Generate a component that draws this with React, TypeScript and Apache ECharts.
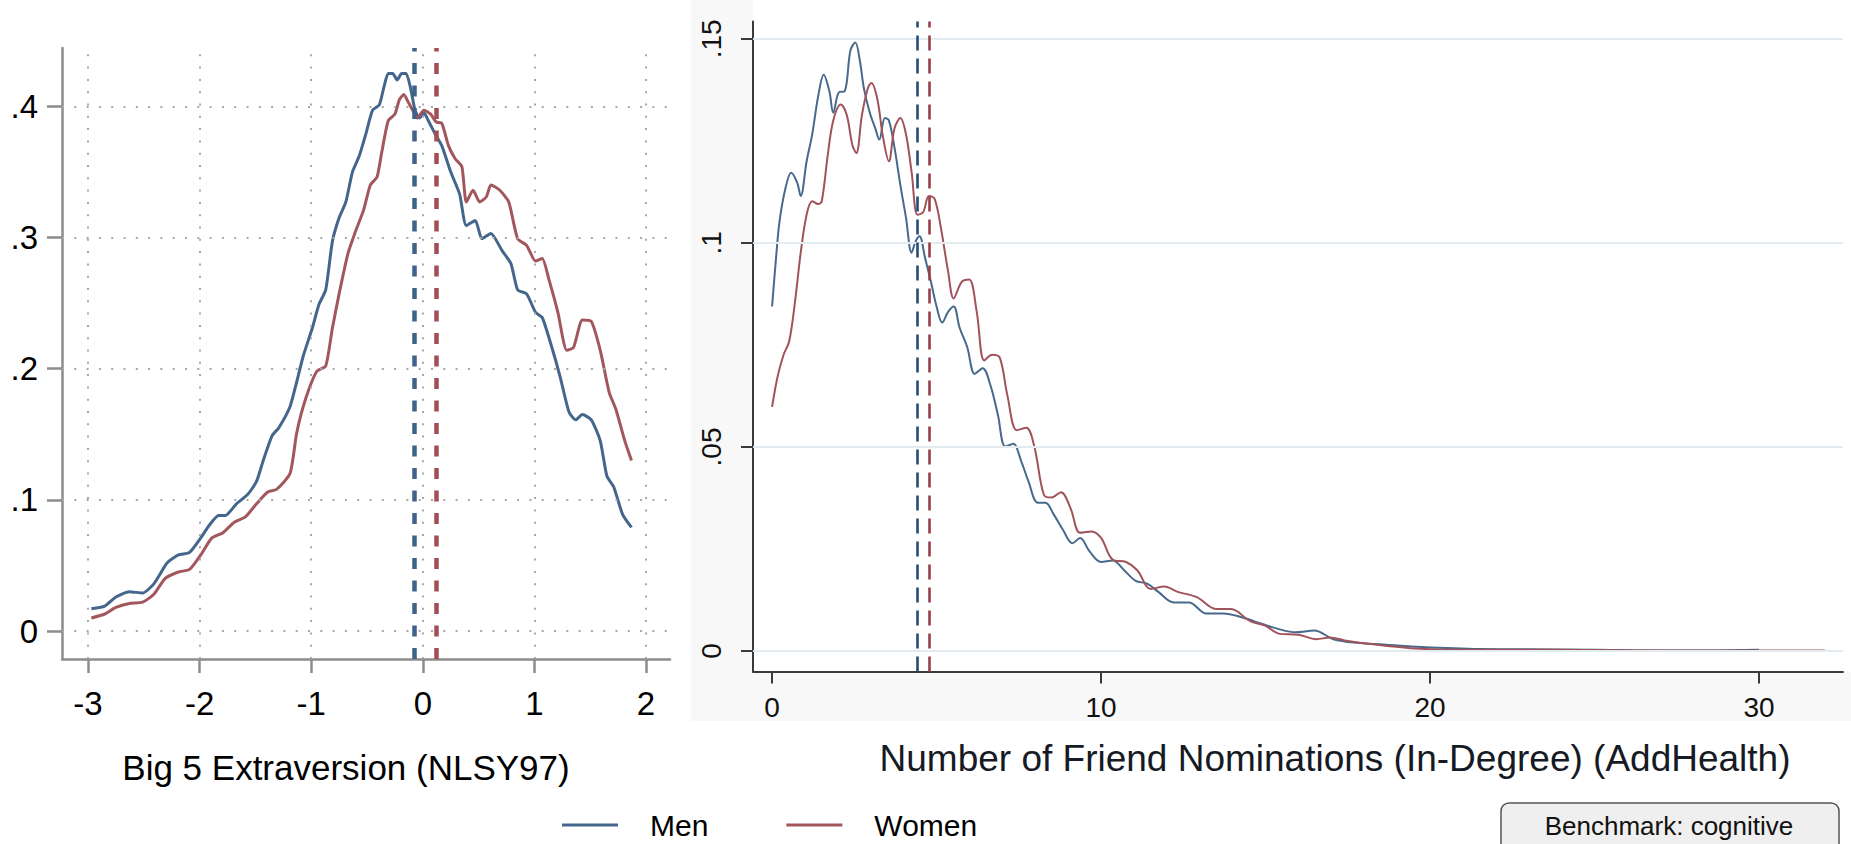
import React, { useEffect, useRef } from "react";
import * as echarts from "echarts";

// ---- Big 5 Extraversion (NLSY97): kernel densities by sex ----
const extraversionMenX = [-2.97, -2.85, -2.75, -2.63, -2.51, -2.41, -2.29, -2.19, -2.09, -1.99, -1.91, -1.83, -1.77, -1.67, -1.57, -1.49, -1.43, -1.35, -1.29, -1.19, -1.13, -1.07, -0.99, -0.93, -0.87, -0.81, -0.75, -0.69, -0.63, -0.57, -0.51, -0.45, -0.39, -0.35, -0.31, -0.27, -0.23, -0.19, -0.15, -0.11, -0.07, -0.03, 0.01, 0.05, 0.11, 0.17, 0.25, 0.33, 0.39, 0.47, 0.53, 0.61, 0.71, 0.79, 0.85, 0.93, 1.01, 1.07, 1.15, 1.23, 1.31, 1.37, 1.43, 1.51, 1.59, 1.65, 1.71, 1.79, 1.87];
const extraversionMen = [0.017, 0.019, 0.026, 0.030, 0.029, 0.036, 0.052, 0.058, 0.060, 0.071, 0.081, 0.088, 0.088, 0.097, 0.104, 0.114, 0.130, 0.149, 0.155, 0.171, 0.190, 0.210, 0.231, 0.249, 0.260, 0.297, 0.315, 0.327, 0.350, 0.362, 0.379, 0.397, 0.401, 0.414, 0.425, 0.425, 0.420, 0.425, 0.425, 0.414, 0.397, 0.391, 0.395, 0.389, 0.379, 0.370, 0.350, 0.333, 0.309, 0.313, 0.299, 0.303, 0.290, 0.280, 0.260, 0.257, 0.243, 0.239, 0.218, 0.194, 0.167, 0.161, 0.165, 0.161, 0.145, 0.118, 0.110, 0.089, 0.079];
const extraversionWomenX = [-2.97, -2.85, -2.75, -2.63, -2.51, -2.41, -2.31, -2.19, -2.09, -1.99, -1.89, -1.79, -1.69, -1.59, -1.49, -1.39, -1.31, -1.19, -1.13, -1.05, -0.95, -0.87, -0.81, -0.75, -0.67, -0.61, -0.53, -0.47, -0.41, -0.37, -0.31, -0.25, -0.21, -0.17, -0.13, -0.09, -0.05, 0.01, 0.07, 0.12, 0.17, 0.23, 0.29, 0.35, 0.39, 0.45, 0.51, 0.57, 0.61, 0.69, 0.77, 0.85, 0.93, 1.01, 1.07, 1.13, 1.21, 1.29, 1.35, 1.43, 1.51, 1.59, 1.67, 1.73, 1.81, 1.87];
const extraversionWomen = [0.010, 0.013, 0.018, 0.021, 0.022, 0.028, 0.040, 0.045, 0.047, 0.058, 0.071, 0.075, 0.083, 0.087, 0.097, 0.106, 0.108, 0.120, 0.151, 0.177, 0.198, 0.202, 0.231, 0.257, 0.288, 0.303, 0.321, 0.340, 0.346, 0.364, 0.389, 0.394, 0.405, 0.409, 0.403, 0.397, 0.391, 0.397, 0.394, 0.388, 0.387, 0.370, 0.360, 0.354, 0.327, 0.336, 0.327, 0.331, 0.340, 0.336, 0.327, 0.299, 0.294, 0.282, 0.284, 0.268, 0.243, 0.214, 0.216, 0.237, 0.236, 0.214, 0.182, 0.169, 0.145, 0.130];
const extraversionMeanMen = -0.08;
const extraversionMeanWomen = 0.12;

// ---- Friend nominations (AddHealth): kernel densities by sex ----
const nominationsMenX = [0, 0.12, 0.23, 0.41, 0.58, 0.76, 0.87, 1.05, 1.22, 1.40, 1.57, 1.74, 1.86, 2.03, 2.21, 2.38, 2.53, 2.67, 2.79, 2.97, 3.14, 3.26, 3.43, 3.55, 3.72, 3.90, 4.07, 4.24, 4.36, 4.48, 4.65, 4.83, 5.00, 5.17, 5.35, 5.52, 5.70, 5.93, 6.16, 6.40, 6.63, 6.86, 7.09, 7.33, 7.56, 7.79, 8.08, 8.31, 8.55, 8.84, 9.13, 9.36, 9.65, 10.0, 10.35, 10.70, 11.05, 11.40, 11.74, 12.21, 12.67, 13.20, 13.72, 14.3, 14.9, 15.43, 15.9, 16.48, 17.06, 17.76, 18.58, 19.74, 21.5, 23.8, 26.15, 28.5, 30];
const nominationsMen = [0.0844, 0.0963, 0.1055, 0.1135, 0.1172, 0.1148, 0.1115, 0.120, 0.1266, 0.1359, 0.1412, 0.1372, 0.1319, 0.1369, 0.1372, 0.1471, 0.1491, 0.1445, 0.1379, 0.1319, 0.128, 0.1253, 0.1306, 0.130, 0.1234, 0.1141, 0.1062, 0.0976, 0.1003, 0.1016, 0.0963, 0.0904, 0.0844, 0.0805, 0.0831, 0.0844, 0.0792, 0.0745, 0.0679, 0.0693, 0.0653, 0.0580, 0.0501, 0.0508, 0.0468, 0.0416, 0.0363, 0.0363, 0.0336, 0.0297, 0.0264, 0.0277, 0.0244, 0.0218, 0.0222, 0.0198, 0.0172, 0.0165, 0.0145, 0.0119, 0.0119, 0.0092, 0.0092, 0.0082, 0.0066, 0.0053, 0.0046, 0.005, 0.0029, 0.002, 0.0016, 0.001, 0.0005, 0.0004, 0.0002, 0.0001, 0.0003];
const nominationsWomenX = [0, 0.17, 0.35, 0.52, 0.70, 0.87, 1.05, 1.22, 1.40, 1.51, 1.69, 1.86, 2.09, 2.27, 2.44, 2.56, 2.73, 2.91, 3.02, 3.20, 3.37, 3.55, 3.72, 3.90, 4.07, 4.24, 4.42, 4.59, 4.77, 4.94, 5.12, 5.35, 5.52, 5.76, 5.99, 6.22, 6.45, 6.69, 6.92, 7.15, 7.44, 7.73, 7.97, 8.26, 8.49, 8.78, 9.07, 9.36, 9.71, 10.0, 10.35, 10.76, 11.10, 11.51, 11.92, 12.33, 12.91, 13.49, 13.95, 14.53, 14.97, 15.43, 16.0, 16.54, 16.95, 17.4, 18.2, 19.4, 20.9, 23.8, 27.3, 30.2, 32];
const nominationsWomen = [0.0598, 0.0673, 0.0726, 0.0759, 0.0858, 0.0976, 0.1069, 0.1102, 0.1095, 0.1102, 0.1214, 0.130, 0.1339, 0.1313, 0.124, 0.122, 0.1313, 0.1379, 0.1392, 0.1352, 0.126, 0.120, 0.128, 0.1306, 0.1266, 0.1174, 0.1069, 0.1075, 0.1115, 0.1108, 0.1042, 0.093, 0.0864, 0.0904, 0.091, 0.0831, 0.0712, 0.0726, 0.0719, 0.0627, 0.0541, 0.0547, 0.0501, 0.0383, 0.0376, 0.0389, 0.035, 0.029, 0.0293, 0.0277, 0.0224, 0.0218, 0.0198, 0.0152, 0.0158, 0.0145, 0.0132, 0.0103, 0.0103, 0.0073, 0.0063, 0.0042, 0.004, 0.0029, 0.0033, 0.0026, 0.0017, 0.0007, 0.0003, 0.0003, 0.0001, 0.0001, 0.0001];
const nominationsMeanMen = 4.42;
const nominationsMeanWomen = 4.79;

// ---- Tick values ----
const extraversionXTicks = [-3, -2, -1, 0, 1, 2];
const extraversionYTicks = [0, 0.1, 0.2, 0.3, 0.4];
const nominationsXTicks = [0, 10, 20, 30];
const nominationsYTicks = [0, 0.05, 0.1, 0.15];

const seriesNames = ["Men", "Women"];
const extraversionTitle = "Big 5 Extraversion (NLSY97)";
const nominationsTitle = "Number of Friend Nominations (In-Degree) (AddHealth)";
const benchmarkText = "Benchmark: cognitive";

const FONT = "'Liberation Sans', Arial, Helvetica, sans-serif";
const MEN = "#45668c";
const WOMEN = "#a2575c";
const MEN_DASH = "#3f6289";
const WOMEN_DASH = "#a24e56";
const MEN_R = "#46698c";
const WOMEN_R = "#a0535a";
const MEN_DASH_R = "#234d75";
const WOMEN_DASH_R = "#983f47";

const pairs = (xs: number[], ys: number[]) => xs.map((x, i) => [x, ys[i]]);
const fmtTick = (v: number) => (v === 0 ? "0" : String(v).replace(/^0\./, ".").replace(/^-0\./, "-."));

export default function App() {
  const ref = useRef<HTMLDivElement>(null);

  useEffect(() => {
    if (!ref.current) return;
    const chart = echarts.init(ref.current, undefined, { renderer: "svg" });

    const leftAxisStyle = { color: "#8c8c8c", width: 2.5 };
    const rightAxisStyle = { color: "#3a3a3a", width: 2 };
    const hidden = { symbol: ["none", "none"], silent: true, label: { show: false } };

    const option: any = {
      animation: false,
      backgroundColor: "#ffffff",
      textStyle: { fontFamily: FONT },
      grid: [
        { left: 62, top: 48, width: 608, height: 611 },
        { left: 753, top: 21.5, width: 1090, height: 650 },
      ],
      xAxis: [
        {
          gridIndex: 0,
          type: "value",
          min: -3.233,
          max: 2.215,
          axisLine: { show: true, onZero: false, lineStyle: leftAxisStyle },
          axisTick: { show: true, length: 14, customValues: extraversionXTicks, lineStyle: leftAxisStyle },
          axisLabel: { customValues: extraversionXTicks, margin: 28, fontSize: 33, color: "#000", fontFamily: FONT, formatter: fmtTick },
          splitLine: { show: false },
        },
        {
          gridIndex: 1,
          type: "value",
          min: -0.58,
          max: 32.55,
          axisLine: { show: true, onZero: false, lineStyle: rightAxisStyle },
          axisTick: { show: true, length: 12, customValues: nominationsXTicks, lineStyle: rightAxisStyle },
          axisLabel: { customValues: nominationsXTicks, margin: 22, fontSize: 28, color: "#111", fontFamily: FONT, formatter: fmtTick },
          splitLine: { show: false },
        },
      ],
      yAxis: [
        {
          gridIndex: 0,
          type: "value",
          min: -0.0213,
          max: 0.4444,
          axisLine: { show: true, onZero: false, lineStyle: leftAxisStyle },
          axisTick: { show: true, length: 15, customValues: extraversionYTicks, lineStyle: leftAxisStyle },
          axisLabel: { customValues: extraversionYTicks, margin: 24, fontSize: 33, color: "#000", fontFamily: FONT, formatter: fmtTick },
          splitLine: { show: false },
        },
        {
          gridIndex: 1,
          type: "value",
          min: -0.00502,
          max: 0.15424,
          axisLine: { show: true, onZero: false, lineStyle: rightAxisStyle },
          axisTick: { show: true, length: 12, customValues: nominationsYTicks, lineStyle: rightAxisStyle },
          axisLabel: { customValues: nominationsYTicks, rotate: 90, margin: 28, fontSize: 28, color: "#111", fontFamily: FONT, formatter: fmtTick },
          splitLine: { show: false },
        },
      ],
      legend: {
        data: seriesNames,
        left: 562,
        top: 810,
        padding: 0,
        icon: "rect",
        itemWidth: 56,
        itemHeight: 3,
        itemGap: 78,
        selectedMode: false,
        textStyle: { fontSize: 30, color: "#000", fontFamily: FONT, padding: [0, 0, 0, 27], lineHeight: 30 },
      },
      graphic: [
        { type: "rect", silent: true, z: -20, shape: { x: 691, y: 0, width: 1160, height: 721 }, style: { fill: "#f8f8f8" } },
        { type: "rect", silent: true, z: -19, shape: { x: 753, y: 0, width: 1098, height: 672 }, style: { fill: "#ffffff" } },
        {
          type: "text",
          x: 346,
          y: 767,
          style: { text: extraversionTitle, fontSize: 35, fontFamily: FONT, fill: "#000", textAlign: "center", textVerticalAlign: "middle" },
        },
        {
          type: "text",
          x: 1335,
          y: 758,
          style: { text: nominationsTitle, fontSize: 37, fontFamily: FONT, fill: "#161a24", textAlign: "center", textVerticalAlign: "middle" },
        },
        {
          type: "rect",
          z: 10,
          shape: { x: 1501, y: 803, width: 338, height: 70, r: 8 },
          style: { fill: "#efefef", stroke: "#555", lineWidth: 1.5 },
        },
        {
          type: "text",
          z: 11,
          x: 1669,
          y: 826,
          style: { text: benchmarkText, fontSize: 26, fontFamily: FONT, fill: "#111", textAlign: "center", textVerticalAlign: "middle" },
        },
      ],
      series: [
        {
          type: "line",
          xAxisIndex: 0,
          yAxisIndex: 0,
          data: [],
          silent: true,
          z: 1,
          markLine: {
            ...hidden,
            lineStyle: { color: "#a8a8a8", width: 2, type: [2, 10.3] },
            data: [
              ...extraversionXTicks.map((v) => ({ xAxis: v })),
              ...extraversionYTicks.map((v) => ({ yAxis: v })),
            ],
          },
        },
        {
          type: "line",
          xAxisIndex: 1,
          yAxisIndex: 1,
          data: [],
          silent: true,
          z: 1,
          markLine: {
            ...hidden,
            lineStyle: { color: "#e3ebf0", width: 2, type: "solid" },
            data: nominationsYTicks.map((v) => ({ yAxis: v })),
          },
        },
        {
          name: "Men",
          type: "line",
          xAxisIndex: 0,
          yAxisIndex: 0,
          data: pairs(extraversionMenX, extraversionMen),
          showSymbol: false,
          symbol: "none",
          smooth: 0.2,
          color: MEN,
          lineStyle: { width: 3, color: MEN },
          z: 3,
          markLine: {
            ...hidden,
            lineStyle: { color: MEN_DASH, width: 4.5, type: [11, 11.5] },
            data: [{ xAxis: extraversionMeanMen }],
          },
        },
        {
          name: "Women",
          type: "line",
          xAxisIndex: 0,
          yAxisIndex: 0,
          data: pairs(extraversionWomenX, extraversionWomen),
          showSymbol: false,
          symbol: "none",
          smooth: 0.2,
          color: WOMEN,
          lineStyle: { width: 3, color: WOMEN },
          z: 3,
          markLine: {
            ...hidden,
            lineStyle: { color: WOMEN_DASH, width: 4.5, type: [11, 11.5] },
            data: [{ xAxis: extraversionMeanWomen }],
          },
        },
        {
          name: "Men",
          type: "line",
          xAxisIndex: 1,
          yAxisIndex: 1,
          data: pairs(nominationsMenX, nominationsMen),
          showSymbol: false,
          symbol: "none",
          smooth: 0.35,
          color: MEN,
          lineStyle: { width: 2, color: MEN_R },
          z: 3,
          markLine: {
            ...hidden,
            lineStyle: { color: MEN_DASH_R, width: 2.6, type: [15, 8] },
            data: [{ xAxis: nominationsMeanMen }],
          },
        },
        {
          name: "Women",
          type: "line",
          xAxisIndex: 1,
          yAxisIndex: 1,
          data: pairs(nominationsWomenX, nominationsWomen),
          showSymbol: false,
          symbol: "none",
          smooth: 0.35,
          color: WOMEN,
          lineStyle: { width: 2, color: WOMEN_R },
          z: 3,
          markLine: {
            ...hidden,
            lineStyle: { color: WOMEN_DASH_R, width: 2.6, type: [15, 8] },
            data: [{ xAxis: nominationsMeanWomen }],
          },
        },
      ],
    };

    chart.setOption(option);
    return () => chart.dispose();
  }, []);

  return <div ref={ref} style={{ position: "fixed", left: 0, top: 0, width: 1851, height: 844 }} />;
}
